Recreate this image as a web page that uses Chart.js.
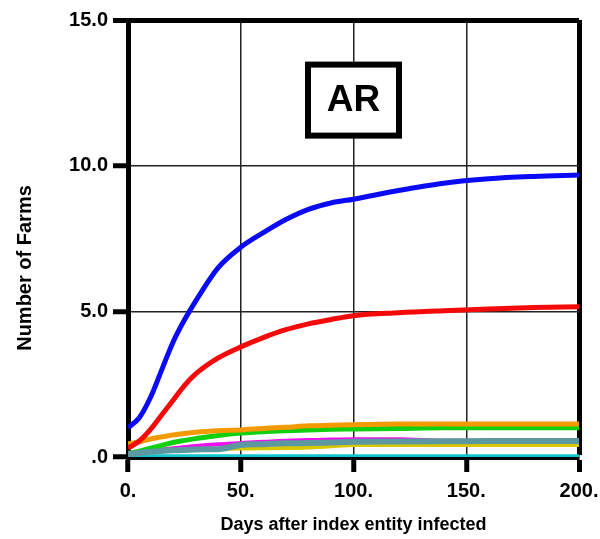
<!DOCTYPE html>
<html>
<head>
<meta charset="utf-8">
<script src="https://cdn.jsdelivr.net/npm/chart.js@4"></script>
<style>
  html, body { margin: 0; padding: 0; background: #fff; }
  #wrap { width: 600px; height: 539px; }
</style>
</head>
<body>
<div id="wrap"><canvas id="farmsChart"></canvas></div>
<script>
// Days after index entity infected
const days = [0, 5, 10, 15, 20, 25, 30, 40, 50, 60, 70, 80, 90, 100, 120, 140, 160, 180, 200];

// Number of farms, one array per curve
const blueFarms    = [1.0, 1.35, 2.05, 3.0, 3.95, 4.7, 5.35, 6.5, 7.2, 7.7, 8.15, 8.5, 8.72, 8.85, 9.15, 9.4, 9.55, 9.63, 9.68];
const redFarms     = [0.3, 0.55, 0.95, 1.45, 1.95, 2.45, 2.85, 3.4, 3.78, 4.1, 4.37, 4.57, 4.72, 4.85, 4.95, 5.02, 5.08, 5.13, 5.16];
const orangeFarms  = [0.45, 0.52, 0.62, 0.69, 0.76, 0.81, 0.85, 0.9, 0.93, 0.98, 1.02, 1.07, 1.09, 1.11, 1.13, 1.13, 1.13, 1.13, 1.13];
const grayFarms    = [0.1, 0.14, 0.18, 0.21, 0.23, 0.24, 0.26, 0.27, 0.41, 0.44, 0.47, 0.48, 0.5, 0.52, 0.53, 0.54, 0.55, 0.55, 0.55];
const greenFarms   = [0.12, 0.2, 0.3, 0.4, 0.5, 0.57, 0.63, 0.74, 0.82, 0.87, 0.9, 0.93, 0.95, 0.96, 0.98, 1.0, 1.0, 1.0, 1.0];
const magentaFarms = [0.08, 0.14, 0.2, 0.26, 0.3, 0.34, 0.38, 0.44, 0.48, 0.52, 0.56, 0.58, 0.6, 0.61, 0.61, 0.56, 0.56, 0.56, 0.56];
const yellowFarms  = [0.1, 0.17, 0.21, 0.24, 0.25, 0.26, 0.27, 0.28, 0.29, 0.3, 0.31, 0.33, 0.37, 0.41, 0.41, 0.41, 0.41, 0.41, 0.41];
const cyanFarms    = [0.03, 0.03, 0.03, 0.03, 0.03, 0.03, 0.03, 0.03, 0.03, 0.03, 0.03, 0.03, 0.03, 0.03, 0.03, 0.03, 0.03, 0.03, 0.03];

const yTickLabels = { 0: '.0', 5: '5.0', 10: '10.0', 15: '15.0' };
const xTickLabels = { 0: '0.', 50: '50.', 100: '100.', 150: '150.', 200: '200.' };

const panelLabel = 'AR';
const panelPos = { x: 100, y: 12.25 };
const yAxisTitle = 'Number of Farms';

const FONT = '"Liberation Sans", Arial, sans-serif';

function series(values, color, width) {
    return {
        data: days.map((d, i) => ({ x: d, y: values[i] })),
        borderColor: color,
        borderWidth: width,
        pointRadius: 0,
        cubicInterpolationMode: 'monotone',
        fill: false
    };
}

// Boxed panel label on top of the plot, plus the y axis title
const extrasPlugin = {
    id: 'extras',
    afterDatasetsDraw(chart) {
        const ctx = chart.ctx;
        const cx = chart.scales.x.getPixelForValue(panelPos.x);
        const cy = chart.scales.y.getPixelForValue(panelPos.y);
        const w = 91, h = 71;
        ctx.save();
        ctx.fillStyle = '#fff';
        ctx.fillRect(cx - w / 2, cy - h / 2, w, h);
        ctx.lineWidth = 6;
        ctx.strokeStyle = '#000';
        ctx.strokeRect(cx - w / 2, cy - h / 2, w, h);
        ctx.fillStyle = '#000';
        ctx.font = 'bold 37px ' + FONT;
        ctx.textAlign = 'center';
        ctx.textBaseline = 'middle';
        ctx.fillText(panelLabel, cx, cy + 1);
        ctx.restore();
    },
    afterDraw(chart) {
        const ctx = chart.ctx;
        ctx.save();
        ctx.translate(25, 268);
        ctx.rotate(-Math.PI / 2);
        ctx.fillStyle = '#000';
        ctx.font = 'bold 20px ' + FONT;
        ctx.textAlign = 'center';
        ctx.textBaseline = 'middle';
        ctx.fillText(yAxisTitle, 0, 0);
        ctx.restore();
    }
};

new Chart(document.getElementById('farmsChart'), {
    type: 'line',
    data: {
        datasets: [
            series(blueFarms, '#0a0af5', 5),
            series(redFarms, '#f50a0a', 5),
            series(orangeFarms, '#f29a00', 5),
            series(grayFarms, '#5c98a0', 6),
            series(greenFarms, '#10d010', 5),
            series(magentaFarms, '#f010f0', 4),
            series(yellowFarms, '#d8c800', 4),
            series(cyanFarms, '#10c4d0', 4)
        ]
    },
    options: {
        responsive: true,
        maintainAspectRatio: false,
        animation: false,
        layout: { padding: { left: 0, top: 20, right: 21, bottom: 0 } },
        plugins: {
            legend: { display: false },
            tooltip: { enabled: false }
        },
        scales: {
            x: {
                type: 'linear',
                min: 0,
                max: 200,
                afterFit: scale => {
                    scale.height = 82;
                    scale.paddingLeft = 0;
                    scale.paddingRight = 0;
                },
                afterBuildTicks: scale => {
                    scale.ticks = Object.keys(xTickLabels).map(v => ({ value: +v }));
                },
                border: { display: true, width: 5, color: '#000' },
                grid: {
                    color: ctx => ctx.tick && ctx.tick.value === 200 ? '#000' : '#222',
                    lineWidth: ctx => ctx.tick && ctx.tick.value === 200 ? 5 : 1.5,
                    tickLength: 15,
                    tickWidth: 5,
                    tickColor: '#000'
                },
                ticks: {
                    color: '#000',
                    padding: 7,
                    maxRotation: 0,
                    font: { family: FONT, size: 20, weight: 'bold' },
                    callback: v => xTickLabels[v]
                },
                title: {
                    display: true,
                    text: 'Days after index entity infected',
                    color: '#000',
                    padding: { top: 0, bottom: 3 },
                    font: { family: FONT, size: 18, weight: 'bold' }
                }
            },
            y: {
                type: 'linear',
                min: 0,
                max: 15,
                afterFit: scale => {
                    scale.width = 128;
                    scale.paddingTop = 0;
                    scale.paddingBottom = 0;
                },
                afterBuildTicks: scale => {
                    scale.ticks = Object.keys(yTickLabels).map(v => ({ value: +v }));
                },
                border: { display: true, width: 5, color: '#000' },
                grid: {
                    color: ctx => ctx.tick && ctx.tick.value === 15 ? '#000' : '#222',
                    lineWidth: ctx => ctx.tick && ctx.tick.value === 15 ? 5 : 1.5,
                    tickLength: 15,
                    tickWidth: 5,
                    tickColor: '#000'
                },
                ticks: {
                    color: '#000',
                    padding: 5,
                    font: { family: FONT, size: 20, weight: 'bold' },
                    callback: v => yTickLabels[v]
                },
                title: { display: false }
            }
        }
    },
    plugins: [extrasPlugin]
});
</script>
</body>
</html>
